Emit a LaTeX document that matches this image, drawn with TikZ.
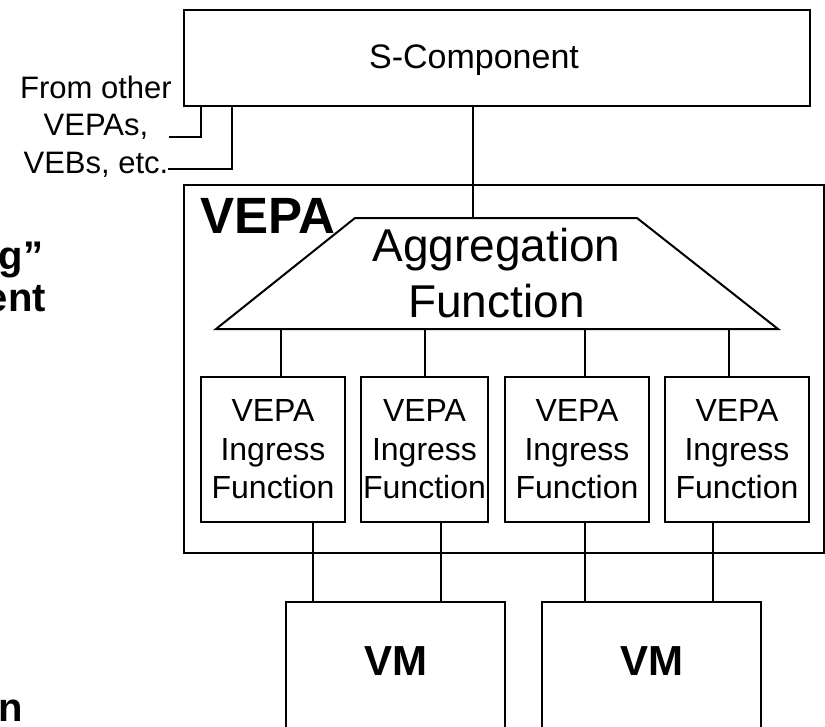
\documentclass[tikz,border=0pt]{standalone}
\usepackage{fontspec}
\setmainfont{Liberation Sans}
\begin{document}
\begin{tikzpicture}[x=1pt,y=-1pt,line width=2pt,
  box/.style={draw,line width=2pt,inner sep=0pt},
  txt/.style={inner sep=0pt,align=center},
  small/.style={font=\fontsize{32}{38.5}\selectfont},
  side/.style={inner sep=0pt,anchor=base east,font=\fontsize{40}{43}\selectfont\bfseries}]
\useasboundingbox (0,0) rectangle (825,726);

% S-Component
\node[box,minimum width=626,minimum height=96] (scomp) at (497,58) {};
\node[txt,anchor=base,font=\fontsize{34}{40}\selectfont] (sctext) at (474,68) {S-Component};

% From other
\node[txt,font=\fontsize{31}{37.5}\selectfont] (from) at (96,126.7) {From other\\VEPAs,\\VEBs, etc.};
\coordinate (f1) at (169,137);
\coordinate (f2) at (168,169);
\coordinate (k1) at (201,106);
\coordinate (k2) at (232,106);
\draw (f1) -| (k1 |- scomp.south);
\draw (f2) -| (k2 |- scomp.south);

% VEPA container
\node[box,minimum width=640,minimum height=368] (vepa) at (504,369) {};
\node[inner sep=0pt,anchor=base west,font=\fontsize{51}{55}\selectfont\bfseries] (vepalabel) at (199,233) {VEPA};

% Aggregation function trapezoid
\coordinate (tl) at (355,218);
\coordinate (tr) at (637,218);
\coordinate (br) at (778,329);
\coordinate (bl) at (216,329);
\draw[fill=white] (bl) -- (tl) -- (tr) -- (br) -- cycle;
\node[txt,font=\fontsize{46}{56}\selectfont] (agg) at (496.5,273.5) {Aggregation\\Function};
\coordinate (ttop) at (473,218);
\draw (ttop |- scomp.south) -- (ttop);

% Ingress functions
\node[box,small,align=center,minimum width=144,minimum height=145] (ing1) at (273,449.5) {VEPA\\Ingress\\Function};
\node[box,small,align=center,minimum width=127,minimum height=145] (ing2) at (424.5,449.5) {VEPA\\Ingress\\Function};
\node[box,small,align=center,minimum width=144,minimum height=145] (ing3) at (577,449.5) {VEPA\\Ingress\\Function};
\node[box,small,align=center,minimum width=144,minimum height=145] (ing4) at (737,449.5) {VEPA\\Ingress\\Function};

\coordinate (a1) at (281,329);
\coordinate (a2) at (425,329);
\coordinate (a3) at (585,329);
\coordinate (a4) at (729,329);
\draw (a1) -- (a1 |- ing1.north);
\draw (a2) -- (a2 |- ing2.north);
\draw (a3) -- (a3 |- ing3.north);
\draw (a4) -- (a4 |- ing4.north);

% VMs
\node[box,minimum width=219,minimum height=178] (vm1) at (395.5,691) {};
\node[box,minimum width=219,minimum height=178] (vm2) at (651.5,691) {};
\node[txt,font=\fontsize{42}{46}\selectfont\bfseries] (vm1t) at (395.5,661) {VM};
\node[txt,font=\fontsize{42}{46}\selectfont\bfseries] (vm2t) at (651.5,661) {VM};

\coordinate (b1) at (313,522);
\coordinate (b2) at (441,522);
\coordinate (b3) at (585,522);
\coordinate (b4) at (713,522);
\draw (b1 |- ing1.south) -- (b1 |- vm1.north);
\draw (b2 |- ing2.south) -- (b2 |- vm1.north);
\draw (b3 |- ing3.south) -- (b3 |- vm2.north);
\draw (b4 |- ing4.south) -- (b4 |- vm2.north);

% cut-off text at left edge
\node[side] (cut1) at (44,269) {g”};
\node[side] (cut2) at (47,311) {ent};
\node[side] (cut3) at (24,721) {n};
\end{tikzpicture}
\end{document}
